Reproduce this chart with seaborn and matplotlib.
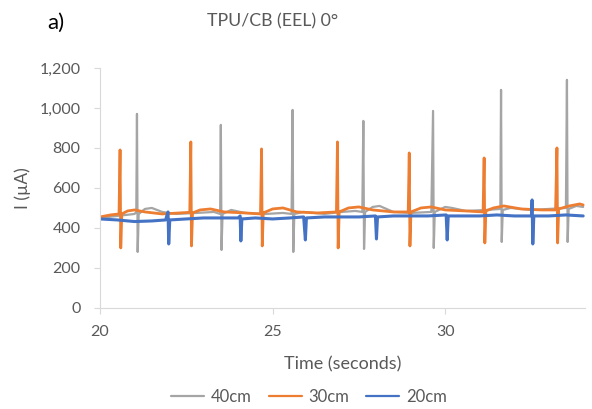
import pandas as pd
import matplotlib
matplotlib.use("Agg")
import matplotlib.pyplot as plt
import seaborn as sns
from matplotlib.ticker import FuncFormatter

# values (time in s, current in uA)
t_40 = [20.0, 20.5, 21.0, 21.05, 21.07, 21.09, 21.12, 21.3, 21.5, 21.8, 22.2, 22.8, 23.3,
        23.48, 23.50, 23.52, 23.55, 23.8, 24.2, 24.8, 25.3, 25.55, 25.58, 25.60, 25.63,
        25.9, 26.5, 27.0, 27.4, 27.6, 27.63, 27.65, 27.68, 27.9, 28.1, 28.5, 29.0, 29.6,
        29.65, 29.67, 29.70, 30.0, 30.2, 30.6, 31.2, 31.6, 31.62, 31.64, 31.67, 31.9,
        32.5, 33.0, 33.5, 33.53, 33.55, 33.58, 33.8, 34.0]
i_40 = [450, 460, 470, 480, 970, 280, 470, 495, 500, 480, 470, 475, 480,
        470, 915, 290, 470, 490, 475, 470, 475, 470, 990, 280, 470,
        480, 470, 480, 485, 480, 935, 295, 480, 505, 510, 480, 475, 480,
        985, 300, 480, 505, 500, 485, 490, 495, 1090, 330, 490, 500,
        490, 495, 500, 1140, 330, 495, 510, 505]

t_30 = [20.0, 20.3, 20.55, 20.58, 20.60, 20.63, 20.8, 21.0, 21.3, 21.8, 22.3, 22.6, 22.63,
        22.65, 22.68, 22.9, 23.2, 23.6, 24.2, 24.65, 24.68, 24.70, 24.73, 25.0, 25.3,
        25.7, 26.3, 26.85, 26.88, 26.90, 26.93, 27.2, 27.5, 27.9, 28.5, 28.93, 28.96,
        28.98, 29.01, 29.3, 29.6, 30.0, 30.6, 31.1, 31.13, 31.15, 31.18, 31.4, 31.7,
        32.2, 32.8, 33.2, 33.24, 33.26, 33.29, 33.6, 33.9, 34.0]
i_30 = [455, 465, 470, 790, 300, 470, 485, 490, 480, 470, 475, 478, 830,
        310, 475, 490, 495, 480, 475, 470, 795, 310, 475, 495, 500,
        480, 475, 480, 830, 300, 480, 500, 505, 490, 480, 480, 775,
        310, 480, 500, 505, 490, 485, 480, 750, 325, 485, 500, 510,
        495, 490, 490, 800, 325, 495, 510, 520, 515]

t_20 = [20.0, 20.5, 21.0, 21.5, 21.9, 21.95, 21.97, 21.99, 22.02, 22.5, 23.0, 23.5, 24.0,
        24.06, 24.08, 24.11, 24.5, 25.0, 25.5, 25.9, 25.95, 25.98, 26.5, 27.0, 27.5,
        27.98, 28.01, 28.04, 28.5, 29.0, 29.5, 30.03, 30.06, 30.09, 30.6, 31.0, 31.5,
        32.0, 32.5, 32.52, 32.54, 32.57, 33.0, 33.5, 34.0]
i_20 = [445, 440, 432, 435, 440, 470, 480, 320, 440, 445, 450, 450, 450,
        460, 335, 445, 450, 445, 450, 455, 340, 450, 455, 455, 455,
        460, 345, 455, 460, 460, 460, 465, 340, 460, 460, 460, 465,
        460, 460, 540, 320, 460, 460, 465, 460]

series = ["40cm", "30cm", "20cm"]
colors = ["#A5A5A5", "#ED7D31", "#4472C4"]

df = pd.concat([
    pd.DataFrame({"t": t_40, "I": i_40, "s": "40cm"}),
    pd.DataFrame({"t": t_30, "I": i_30, "s": "30cm"}),
    pd.DataFrame({"t": t_20, "I": i_20, "s": "20cm"}),
])

sns.set_style("white")
plt.rcParams["font.family"] = ["Lato", "DejaVu Sans"]
txt = "#595959"

fig = plt.figure(figsize=(5.92, 4.09), dpi=100)
ax = fig.add_axes([0.169, 0.247, 0.819, 0.587])

for name, col, lw in zip(series, colors, [1.6, 2.0, 2.2]):
    sub = df[df["s"] == name]
    sns.lineplot(data=sub, x="t", y="I", color=col, linewidth=lw, ax=ax,
                 estimator=None, sort=False, label=name, legend=False)

ax.set_xlim(20, 34.05)
ax.set_ylim(0, 1200)
ax.set_xticks([20, 25, 30])
ax.set_yticks(range(0, 1201, 200))
ax.yaxis.set_major_formatter(FuncFormatter(lambda v, p: f"{int(v):,}"))
ax.tick_params(axis="both", colors="#D9D9D9", labelcolor=txt, labelsize=11.5,
               length=4, width=0.8, left=True, bottom=True, direction="out")
ax.tick_params(axis="x", pad=8)
ax.tick_params(axis="y", pad=10)
for side in ["top", "right"]:
    ax.spines[side].set_visible(False)
for side in ["left", "bottom"]:
    ax.spines[side].set_color("#D9D9D9")
    ax.spines[side].set_linewidth(0.8)

ax.set_xlabel("Time (seconds)", color=txt, fontsize=13, labelpad=13)
ax.set_ylabel("I (µA)", color=txt, fontsize=12.5, labelpad=6)

fig.text(0.46, 0.948, "TPU/CB (EEL) 0°", ha="center", va="center", color=txt, fontsize=12.8)
fig.text(0.079, 0.943, "a)", ha="left", va="center", color="black", fontsize=16)

handles = ax.get_lines()[:3]
leg = fig.legend(handles, series, loc="center", bbox_to_anchor=(0.522, 0.03), ncol=3,
                 frameon=False, fontsize=12, handlelength=2.0, handletextpad=0.4,
                 columnspacing=1.0, labelcolor=txt)
for line in leg.get_lines():
    line.set_linewidth(1.6)

fig.savefig("out.png", dpi=100)
